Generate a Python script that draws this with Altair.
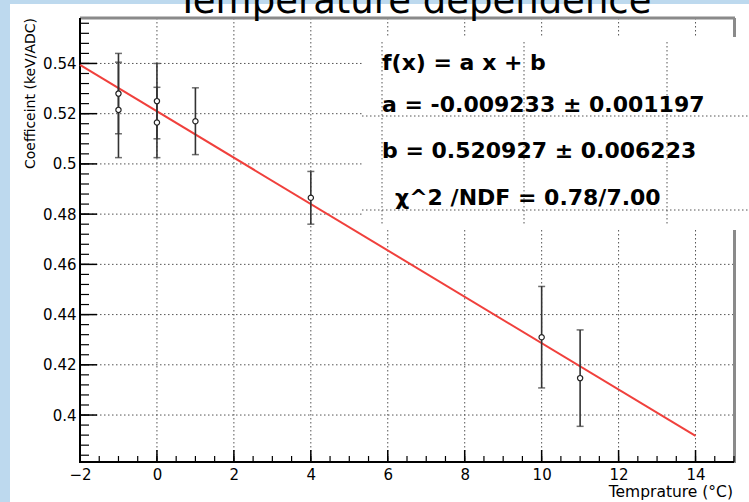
import altair as alt
import pandas as pd

# ---- data ----
temps = [-1, -1, 0, 0, 1, 4, 10, 11]
coef = [0.528, 0.5215, 0.525, 0.5165, 0.517, 0.4865, 0.431, 0.4147]
coef_err = [0.016, 0.019, 0.015, 0.014, 0.0133, 0.0105, 0.0202, 0.0192]

fit_x = [-2, 14]
fit_y = [0.5394, 0.3917]

x_major = [-2, 0, 2, 4, 6, 8, 10, 12, 14]
y_major = [0.40, 0.42, 0.44, 0.46, 0.48, 0.50, 0.52, 0.54]
x_minor = [round(-2 + 0.5 * i, 2) for i in range(35)]
y_minor = [round(0.384 + 0.004 * i, 3) for i in range(44)]

title_text = "Temperature dependence"
x_title = "Temprature (°C)"
y_title = "Coefficeint (keV/ADC)"
stats_lines = ["f(x) = a x + b", "a = -0.009233  ± 0.001197",
               "b = 0.520927  ± 0.006223", "χ^2 /NDF = 0.78/7.00"]

# ---- tables ----
pts = pd.DataFrame({"t": temps, "c": coef, "e": coef_err})
pts["lo"] = pts["c"] - pts["e"]
pts["hi"] = pts["c"] + pts["e"]
caps = pd.DataFrame({"t": temps * 2, "c": list(pts["lo"]) + list(pts["hi"])})
fit = pd.DataFrame({"t": fit_x, "c": fit_y})
one = pd.DataFrame({"k": [0]})

W, H = 654, 444
FONT = "DejaVu Sans"
xs = alt.Scale(domain=[-2, 15], nice=False, zero=False)
ys = alt.Scale(domain=[0.3813, 0.5581], nice=False, zero=False)
xax = alt.Axis(values=x_major, format="d", ticks=False, domain=False, grid=False,
               labelFont=FONT, labelFontSize=15, labelColor="black",
               labelPadding=5, labelFlush=False, labelOverlap=False,
               title=None, zindex=2)
yax = alt.Axis(values=y_major, format="~g", ticks=False, domain=False, grid=False,
               labelFont=FONT, labelFontSize=15, labelColor="black",
               labelPadding=4, labelFlush=False, labelOverlap=False,
               title=None, zindex=2)


def X(field):
    return alt.X(field, scale=xs, axis=xax, title=None)


def Y(field):
    return alt.Y(field, scale=ys, axis=yax, title=None)


GRID = dict(strokeDash=[1.5, 2.5], color="#555555", strokeWidth=1)

bg = alt.Chart(one).mark_rect(color="white").encode(
    x=alt.value(-70), x2=alt.value(W + 15), y=alt.value(-14), y2=alt.value(H + 40))

gx = alt.Chart(pd.DataFrame({"t": x_major[1:]})).mark_rule(**GRID).encode(
    x=X("t:Q"), y=alt.value(0), y2=alt.value(H))
gy = alt.Chart(pd.DataFrame({"c": y_major})).mark_rule(**GRID).encode(
    y=Y("c:Q"), x=alt.value(0), x2=alt.value(W))

frame_l = alt.Chart(one).mark_rule(color="black", strokeWidth=2).encode(
    x=alt.value(0), y=alt.value(0), y2=alt.value(H + 1))
frame_b = alt.Chart(one).mark_rule(color="black", strokeWidth=2).encode(
    y=alt.value(H), x=alt.value(-1), x2=alt.value(W))
frame_t = alt.Chart(one).mark_rule(color="#8a8a8a", strokeWidth=3).encode(
    y=alt.value(0), x=alt.value(0), x2=alt.value(W + 1))
frame_r = alt.Chart(one).mark_rule(color="#8a8a8a", strokeWidth=3).encode(
    x=alt.value(W + 0.5), y=alt.value(0), y2=alt.value(H + 1))

# stats box (opaque) with its own dotted lines
box = alt.Chart(one).mark_rect(color="white").encode(
    x=alt.value(282), x2=alt.value(W + 15), y=alt.value(19), y2=alt.value(212))
art = []
for px in [302, 444, 587]:
    art.append(alt.Chart(one).mark_rule(**GRID).encode(
        x=alt.value(px), y=alt.value(24), y2=alt.value(208)))
for py in [98, 192]:
    art.append(alt.Chart(one).mark_rule(**GRID).encode(
        y=alt.value(py), x=alt.value(282), x2=alt.value(W + 15)))

fitline = alt.Chart(fit).mark_line(color="#f0403c", strokeWidth=2).encode(
    x=X("t:Q"), y=Y("c:Q"))

ebars = alt.Chart(pts).mark_rule(color="#333333", strokeWidth=1.6).encode(
    x=X("t:Q"), y=Y("lo:Q"), y2="hi:Q")
ecaps = alt.Chart(caps).mark_tick(orient="horizontal", size=7, thickness=1.5,
                                  color="#333333").encode(x=X("t:Q"), y=Y("c:Q"))

points = alt.Chart(pts).mark_point(shape="circle", filled=True, fill="white",
                                   stroke="#222222", strokeWidth=1.2, size=28,
                                   opacity=1, fillOpacity=1).encode(
    x=X("t:Q"), y=Y("c:Q"))

tk_y_major = alt.Chart(pd.DataFrame({"c": y_major})).mark_rule(color="black", strokeWidth=1.5).encode(
    y=Y("c:Q"), x=alt.value(0), x2=alt.value(17))
tk_y_minor = alt.Chart(pd.DataFrame({"c": y_minor})).mark_rule(color="black", strokeWidth=1.2).encode(
    y=Y("c:Q"), x=alt.value(0), x2=alt.value(9))
tk_x_major = alt.Chart(pd.DataFrame({"t": x_major})).mark_rule(color="black", strokeWidth=1.5).encode(
    x=X("t:Q"), y=alt.value(H), y2=alt.value(H - 12))
tk_x_minor = alt.Chart(pd.DataFrame({"t": x_minor})).mark_rule(color="black", strokeWidth=1.2).encode(
    x=X("t:Q"), y=alt.value(H), y2=alt.value(H - 6))

title = alt.Chart(pd.DataFrame({"s": [title_text]})).mark_text(
    font=FONT, fontSize=37, align="center", baseline="alphabetic", color="black").encode(
    text="s:N", x=alt.value(334), y=alt.value(-5))

stats = []
for s, px, py in zip(stats_lines, [302, 302, 302, 315], [52, 94, 140, 187]):
    stats.append(alt.Chart(pd.DataFrame({"s": [s]})).mark_text(
        font=FONT, fontSize=22, fontWeight="bold", align="left", baseline="alphabetic",
        color="black").encode(text="s:N", x=alt.value(px), y=alt.value(py)))

xt = alt.Chart(pd.DataFrame({"s": [x_title]})).mark_text(
    font=FONT, fontSize=15.5, align="right", baseline="alphabetic", color="black").encode(
    text="s:N", x=alt.value(W - 1), y=alt.value(H + 35))
yt = alt.Chart(pd.DataFrame({"s": [y_title]})).mark_text(
    font=FONT, fontSize=14, align="right", baseline="alphabetic", angle=270,
    color="black").encode(text="s:N", x=alt.value(-45), y=alt.value(0))

chart = alt.layer(
    bg, gx, gy, frame_t, frame_r, box, *art, frame_l, frame_b,
    fitline, ebars, ecaps, points,
    tk_y_major, tk_y_minor, tk_x_major, tk_x_minor,
    title, *stats, xt, yt,
).properties(
    width=W, height=H,
    padding={"left": 80, "top": 18, "right": 15, "bottom": 40},
    autosize=alt.AutoSizeParams(type="none"),
    background="#bdd9ee",
).configure_view(stroke=None)

chart.save("out.html", embed_options={"renderer": "svg", "actions": False})
